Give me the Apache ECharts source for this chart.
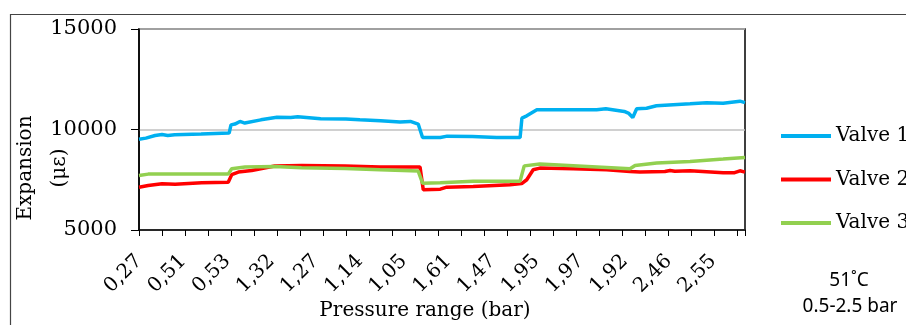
<!DOCTYPE html>
<html>
<head>
<meta charset="utf-8">
<script src="https://cdn.jsdelivr.net/npm/echarts@6/dist/echarts.min.js"></script>
<style>
html, body { margin: 0; padding: 0; background: #fff; }
#main { width: 906px; height: 325px; }
</style>
</head>
<body>
<div id="main"></div>
<script>
// x = reading number along the test run (10 readings between tick marks)
var tickLabels = ['0,27', '0,51', '0,53', '1,32', '1,27', '1,14', '1,05', '1,61', '1,47', '1,95', '1,97', '1,92', '2,46', '2,55'];
var tickStep = 10;
var labelStep = 19.2;
var lastReading = 263.5;

var valve1 = [[0, 9520], [3, 9570], [7, 9700], [10, 9750], [12.5, 9700], [15.5, 9740], [27, 9770], [39.2, 9820],
  [40, 10230], [41.7, 10270], [43.9, 10400], [46, 10320], [53, 10480], [60, 10610], [66, 10600], [69, 10630],
  [79, 10530], [90, 10520], [96, 10480], [105, 10430], [113.5, 10370], [118, 10400], [121.4, 10270], [122.2, 10230],
  [123.3, 9600], [131, 9600], [134, 9670], [145, 9650], [155.5, 9600], [165.7, 9600], [166.5, 10570], [168.6, 10680],
  [173, 10980], [189, 10980], [199, 10980], [203, 11030], [211, 10900], [213, 10800], [214.7, 10600], [216.4, 11030],
  [220.7, 11060], [225, 11180], [239.6, 11280], [246.8, 11330], [254, 11310], [261.3, 11410], [263.5, 11340]];

var valve2 = [[0, 7130], [4, 7210], [10, 7300], [15.7, 7280], [27.3, 7350], [38.8, 7380], [40.3, 7750], [43.2, 7880],
  [49, 7960], [59, 8180], [70.7, 8210], [89.6, 8190], [104.8, 8140], [122.2, 8130], [123.6, 7000], [131, 7030],
  [133.8, 7130], [145.3, 7160], [161.3, 7250], [166.4, 7310], [168.6, 7500], [171.4, 8000], [174.3, 8080],
  [188.8, 8045], [203.3, 7995], [213.5, 7910], [217.8, 7880], [228.7, 7910], [230.9, 7960], [233, 7920],
  [239.6, 7945], [254, 7850], [259, 7850], [261.3, 7945], [263.5, 7880]];

var valve3 = [[0, 7710], [4, 7780], [38.8, 7780], [40.3, 8045], [46.1, 8130], [59.1, 8160], [70.7, 8095], [89.6, 8060],
  [104.8, 7995], [121.4, 7930], [123.3, 7330], [131, 7350], [145.3, 7430], [165.7, 7430], [167.5, 8190], [174.3, 8280],
  [188.8, 8195], [203.3, 8110], [213.5, 8045], [215.7, 8210], [225.1, 8330], [239.6, 8410], [254, 8530], [263.5, 8610]];

var serif = '"DejaVu Serif", "Liberation Serif", serif';
var chart = echarts.init(document.getElementById('main'));

chart.setOption({
  animation: false,
  color: ['#00b0f0', '#ff0000', '#92d050'],
  grid: {
    left: 139, right: 161, top: 29, bottom: 95,
    show: true, borderColor: '#000', borderWidth: 1.5
  },
  legend: {
    orient: 'vertical',
    left: 776,
    top: 121,
    itemWidth: 50,
    itemHeight: 4,
    itemGap: 23.5,
    icon: 'rect',
    textStyle: { fontFamily: serif, fontSize: 20, color: '#000' },
    data: ['Valve 1', 'Valve 2', 'Valve 3']
  },
  xAxis: [
    {
      type: 'value',
      min: 0,
      max: lastReading,
      interval: tickStep,
      axisLine: { show: true, lineStyle: { color: '#000', width: 1.5 } },
      axisTick: { show: true, length: 6, lineStyle: { color: '#000', width: 1 } },
      axisLabel: { show: false },
      splitLine: { show: false }
    },
    {
      type: 'value',
      position: 'bottom',
      min: 0,
      max: lastReading,
      interval: labelStep,
      axisLine: { show: false },
      axisTick: { show: false },
      splitLine: { show: false },
      axisLabel: {
        rotate: 45,
        margin: 28,
        fontFamily: serif,
        fontSize: 20,
        color: '#000',
        formatter: function (v) {
          var i = Math.round(v / labelStep);
          if (Math.abs(v / labelStep - i) > 0.01) return '';
          return tickLabels[i] || '';
        }
      }
    }
  ],
  yAxis: {
    type: 'value',
    min: 5000,
    max: 15000,
    interval: 5000,
    axisLine: { show: true, lineStyle: { color: '#000', width: 1.5 } },
    axisTick: { show: true, length: 8, lineStyle: { color: '#000' } },
    axisLabel: { fontFamily: serif, fontSize: 21, color: '#000', margin: 22, formatter: function (v) { return String(v); } },
    splitLine: { show: true, lineStyle: { color: '#c0c0c0', width: 1.5 } }
  },
  series: [
    { name: 'Valve 1', type: 'line', data: valve1, showSymbol: false, lineStyle: { width: 3.5 } },
    { name: 'Valve 2', type: 'line', data: valve2, showSymbol: false, lineStyle: { width: 3.5 } },
    { name: 'Valve 3', type: 'line', data: valve3, showSymbol: false, lineStyle: { width: 3.5 } }
  ],
  graphic: [
    { type: 'rect', shape: { x: 10.5, y: 14.5, width: 1000, height: 400 }, style: { fill: 'none', stroke: '#444', lineWidth: 1.2 }, silent: true },
    { type: 'text', x: 26, y: 168, rotation: Math.PI / 2,
      style: { text: 'Expansion', font: '20px ' + serif, fill: '#000', align: 'center', verticalAlign: 'middle', textAlign: 'center', textVerticalAlign: 'middle' } },
    { type: 'text', x: 60, y: 168, rotation: Math.PI / 2,
      style: { text: '(με)', font: '20px ' + serif, fill: '#000', align: 'center', verticalAlign: 'middle', textAlign: 'center', textVerticalAlign: 'middle' } },
    { type: 'text', x: 425, y: 311,
      style: { text: 'Pressure range (bar)', font: '20px ' + serif, fill: '#000', align: 'center', verticalAlign: 'middle', textAlign: 'center', textVerticalAlign: 'middle' } },
    { type: 'text', x: 849, y: 281,
      style: { text: '51˚C', font: '19px "Noto Sans", "Open Sans", sans-serif', fill: '#000', align: 'center', verticalAlign: 'middle', textAlign: 'center', textVerticalAlign: 'middle' } },
    { type: 'text', x: 850, y: 307,
      style: { text: '0.5-2.5 bar', font: '19px "Noto Sans", "Open Sans", sans-serif', fill: '#000', align: 'center', verticalAlign: 'middle', textAlign: 'center', textVerticalAlign: 'middle' } }
  ]
});
</script>
</body>
</html>
